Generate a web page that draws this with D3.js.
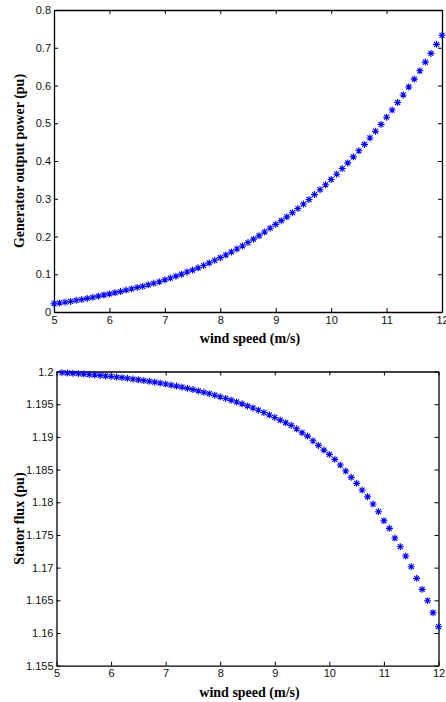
<!DOCTYPE html>
<html>
<head>
<meta charset="utf-8">
<script src="https://cdn.jsdelivr.net/npm/d3@7"></script>
<style>
  body { margin: 0; background: #fff; }
  svg { display: block; }
  .tick text { font-family: "Liberation Sans", Arial, sans-serif; font-size: 11px; fill: #111; }
  .lbl { font-family: "Liberation Serif", "Times New Roman", serif; font-weight: bold; font-size: 14px; fill: #000; }
</style>
</head>
<body>
<svg width="446" height="702"></svg>
<script>
// wind speed (m/s) for each sample
var speedTop = [5.0,5.1,5.2,5.3,5.4,5.5,5.6,5.7,5.8,5.9,6.0,6.1,6.2,6.3,6.4,6.5,6.6,6.7,6.8,6.9,
  7.0,7.1,7.2,7.3,7.4,7.5,7.6,7.7,7.8,7.9,8.0,8.1,8.2,8.3,8.4,8.5,8.6,8.7,8.8,8.9,
  9.0,9.1,9.2,9.3,9.4,9.5,9.6,9.7,9.8,9.9,10.0,10.1,10.2,10.3,10.4,10.5,10.6,10.7,10.8,10.9,
  11.0,11.1,11.2,11.3,11.4,11.5,11.6,11.7,11.8,11.9,12.0];
// generator output power (pu)
var power = [0.022,0.024,0.026,0.028,0.031,0.033,0.036,0.039,0.042,0.045,0.048,0.051,0.054,0.058,0.061,0.065,0.068,0.072,0.076,0.080,
  0.085,0.090,0.095,0.100,0.106,0.111,0.117,0.123,0.130,0.137,0.144,0.151,0.159,0.167,0.175,0.184,0.193,0.202,0.212,0.222,
  0.232,0.242,0.252,0.263,0.274,0.286,0.298,0.311,0.324,0.337,0.351,0.365,0.380,0.395,0.411,0.427,0.444,0.461,0.479,0.497,
  0.516,0.535,0.555,0.575,0.596,0.617,0.639,0.662,0.685,0.709,0.733];

var speedBottom = [5.1,5.2,5.3,5.4,5.5,5.6,5.7,5.8,5.9,6.0,6.1,6.2,6.3,6.4,6.5,6.6,6.7,6.8,6.9,
  7.0,7.1,7.2,7.3,7.4,7.5,7.6,7.7,7.8,7.9,8.0,8.1,8.2,8.3,8.4,8.5,8.6,8.7,8.8,8.9,
  9.0,9.1,9.2,9.3,9.4,9.5,9.6,9.7,9.8,9.9,10.0,10.1,10.2,10.3,10.4,10.5,10.6,10.7,10.8,10.9,
  11.0,11.1,11.2,11.3,11.4,11.5,11.6,11.7,11.8,11.9,12.0];
// stator flux (pu)
var flux = [1.19982,1.19977,1.19972,1.19966,1.19960,1.19954,1.19947,1.19940,1.19932,1.19924,1.19915,1.19906,1.19896,1.19885,1.19874,1.19862,1.19850,1.19837,1.19823,
  1.19808,1.19793,1.19777,1.19760,1.19742,1.19723,1.19703,1.19682,1.19660,1.19637,1.19613,1.19588,1.19562,1.19534,1.19505,1.19474,1.19442,1.19408,1.19372,1.19335,
  1.19297,1.19257,1.19216,1.19176,1.19124,1.19063,1.19012,1.18940,1.18870,1.18798,1.18732,1.18656,1.18569,1.18477,1.18381,1.18289,1.18187,1.18084,1.17973,1.17855,
  1.17717,1.17601,1.17453,1.17320,1.17177,1.17014,1.16836,1.16668,1.16494,1.16310,1.16096];

var xTicks = [5,6,7,8,9,10,11,12];
var powerTicks = [0,0.1,0.2,0.3,0.4,0.5,0.6,0.7,0.8];
var fluxTicks = [1.155,1.16,1.165,1.17,1.175,1.18,1.185,1.19,1.195,1.2];

var svg = d3.select("svg");
var fmt = d3.format("~g");

// matlab style '*' marker
var star = "M-3.5,0H3.5M0,-3.5V3.5M-2.5,-2.5L2.5,2.5M-2.5,2.5L2.5,-2.5";

function panel(box, xs, ys, yDomain, yTicks, yLabel) {
  var x = d3.scaleLinear().domain([5, 12]).range([box.l, box.r]);
  var y = d3.scaleLinear().domain(yDomain).range([box.b, box.t]);
  var g = svg.append("g");

  g.append("g").attr("transform", "translate(0," + box.b + ")")
    .call(d3.axisBottom(x).tickValues(xTicks).tickSizeInner(-4).tickSizeOuter(0).tickPadding(4).tickFormat(fmt));
  g.append("g").attr("transform", "translate(0," + box.t + ")")
    .call(d3.axisTop(x).tickValues(xTicks).tickSizeInner(-4).tickSizeOuter(0).tickFormat(""));
  g.append("g").attr("transform", "translate(" + box.l + ",0)")
    .call(d3.axisLeft(y).tickValues(yTicks).tickSizeInner(-4).tickSizeOuter(0).tickPadding(3).tickFormat(fmt));
  g.append("g").attr("transform", "translate(" + box.r + ",0)")
    .call(d3.axisRight(y).tickValues(yTicks).tickSizeInner(-4).tickSizeOuter(0).tickFormat(""));
  g.selectAll(".domain").attr("stroke", "#000").attr("stroke-width", 1.3);
  g.selectAll(".tick line").attr("stroke", "#000");

  g.append("g").selectAll("path").data(xs).enter().append("path")
    .attr("d", star)
    .attr("transform", function (d, i) { return "translate(" + x(d) + "," + y(ys[i]) + ")"; })
    .attr("fill", "none").attr("stroke", "#0000ff").attr("stroke-width", 1.1);

  g.append("text").attr("class", "lbl")
    .attr("x", (box.l + box.r) / 2 + 2).attr("y", box.b + 31)
    .attr("text-anchor", "middle").text("wind speed (m/s)");
  g.append("text").attr("class", "lbl")
    .attr("transform", "translate(" + 24 + "," + ((box.t + box.b) / 2) + ") rotate(-90)")
    .attr("text-anchor", "middle").text(yLabel);
}

panel({l: 54, r: 442, t: 10, b: 312}, speedTop, power, [0, 0.8], powerTicks, "Generator output  power (pu)");
panel({l: 56.5, r: 438.5, t: 371.5, b: 665.7}, speedBottom, flux, [1.155, 1.2], fluxTicks, "Stator flux (pu)");
</script>
</body>
</html>
